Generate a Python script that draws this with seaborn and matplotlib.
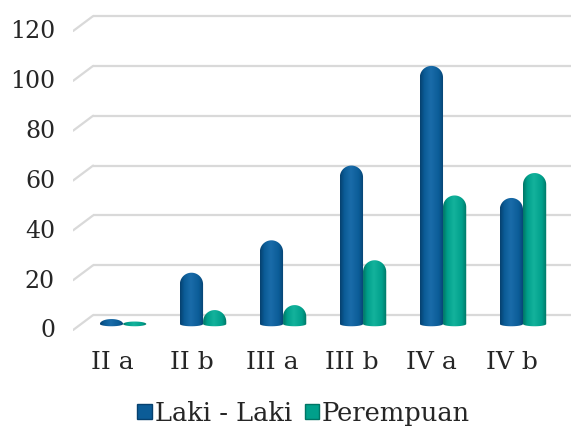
import matplotlib
matplotlib.use("Agg")
import matplotlib.pyplot as plt
import matplotlib.transforms as mtransforms
from matplotlib.path import Path
from matplotlib.patches import PathPatch, Patch
import numpy as np
import pandas as pd
import seaborn as sns

# data (back-wall scale)
kelas = ["II a", "II b", "III a", "III b", "IV a", "IV b"]
laki = [1, 17, 30, 60, 100, 47]
perempuan = [0, 2, 4, 22, 48, 57]
y_ticks = [0, 20, 40, 60, 80, 100, 120]

df = pd.DataFrame({
    "kelas": kelas * 2,
    "jumlah": laki + perempuan,
    "jenis": ["Laki - Laki"] * len(kelas) + ["Perempuan"] * len(kelas),
})

warna = {"Laki - Laki": "#0b5c97", "Perempuan": "#00a08b"}
gelap = {"Laki - Laki": "#06416f", "Perempuan": "#007565"}
terang = {"Laki - Laki": "#1a6ca9", "Perempuan": "#14b29c"}

sns.set_style("white")
plt.rcParams["font.family"] = ["DejaVu Serif"]

fig = plt.figure(figsize=(5.71, 4.28), dpi=100)
ax = fig.add_axes([0.128, 0.208, 0.872, 0.769])

sns.barplot(data=df, x="kelas", y="jumlah", hue="jenis", palette=warna,
            saturation=1, width=0.58, gap=0, legend=False, ax=ax, zorder=3)

XLIM = (-0.625, 5.6)
YLIM = (-9.6, 122.5)
ax.set_xlim(*XLIM)
ax.set_ylim(*YLIM)
sns.despine(ax=ax, left=True, bottom=True)
ax.set_xlabel("")
ax.set_ylabel("")

# perspective: back wall gridlines, short diagonal floor edge, bars stand in front
depth = 3.6
for v in y_ticks:
    ax.plot([-0.375, XLIM[1]], [v, v], color="#d9d9d9", lw=1.6,
            zorder=0, solid_capstyle="butt")
    ax.plot([-0.625, -0.375], [v - 6, v], color="#d9d9d9", lw=1.6, zorder=0)

ax.set_yticks(y_ticks)
ax.set_yticklabels([str(v) for v in y_ticks], fontsize=17)
ax.tick_params(axis="y", length=0, pad=13)
ax.tick_params(axis="x", length=0, pad=9, labelsize=18)
geser_x = mtransforms.ScaledTranslation(-8 / 72, 0, fig.dpi_scale_trans)
for lbl in ax.get_xticklabels():
    lbl.set_transform(lbl.get_transform() + geser_x)
geser_y = mtransforms.ScaledTranslation(0, -9.6 / 72, fig.dpi_scale_trans)
for lbl in ax.get_yticklabels():
    lbl.set_transform(lbl.get_transform() + geser_y)

# turn flat bars into shaded cylinders with rounded tops
fig.canvas.draw()
p0 = ax.transData.transform((0, 0))
p1 = ax.transData.transform((1, 1))
aspek = (p1[0] - p0[0]) / (p1[1] - p0[1])  # y-units per x-unit in pixels

for bar in list(ax.patches):
    x, w, h = bar.get_x(), bar.get_width(), bar.get_height()
    fc = np.array(matplotlib.colors.to_rgb(bar.get_facecolor()))
    seri = min(warna, key=lambda k: np.sum(np.abs(
        np.array(matplotlib.colors.to_rgb(warna[k])) - fc)))
    bar.set_visible(False)
    bawah = -depth
    tinggi = h + depth
    r = w / 2 * aspek
    if h < 1.5:
        # flat disk lying on the floor
        cap = 1.0 + h
        body = bawah
    else:
        cap = min(r, tinggi)
        body = h - cap
    t = np.linspace(np.pi, 0, 40)
    xs = x + w / 2 + w / 2 * np.cos(t)
    ys = body + cap * np.sin(t)
    bt = np.linspace(0, np.pi, 20)
    bx = x + w / 2 + w / 2 * np.cos(bt)
    by = bawah - 0.9 * np.sin(bt)
    verts = np.vstack([np.column_stack([xs, ys]), np.column_stack([bx, by])])
    verts = np.vstack([verts, verts[:1]])
    pp = PathPatch(Path(verts, closed=True), facecolor="none",
                   edgecolor="none", zorder=3)
    ax.add_patch(pp)
    cmap = matplotlib.colors.LinearSegmentedColormap.from_list(
        "silinder", [(0, gelap[seri]), (0.18, warna[seri]), (0.45, terang[seri]),
                     (0.8, warna[seri]), (1, gelap[seri])])
    grad = np.linspace(0, 1, 64).reshape(1, -1)
    im = ax.imshow(grad, cmap=cmap, aspect="auto",
                   extent=(x, x + w, bawah - 1.2, body + cap), zorder=3)
    im.set_clip_path(pp)
ax.set_xlim(*XLIM)
ax.set_ylim(*YLIM)

handles = [Patch(facecolor=warna[k], edgecolor=gelap[k], label=k) for k in warna]
fig.legend(handles=handles, loc="center", bbox_to_anchor=(0.532, 0.035),
           ncol=2, frameon=False, fontsize=18.5, handlelength=0.55,
           handleheight=0.55, handletextpad=0.12, columnspacing=0.5)

fig.savefig("out.png", dpi=100)
